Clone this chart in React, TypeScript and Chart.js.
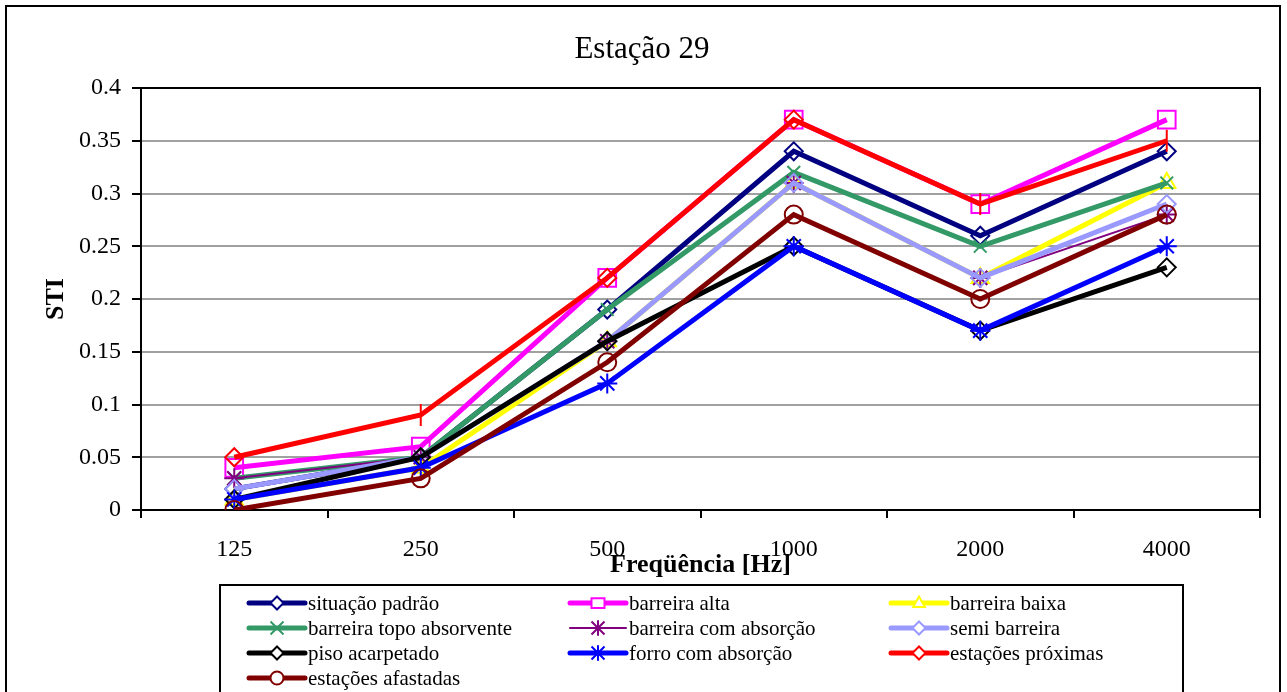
import React, { useEffect, useRef } from 'react';
import { Chart, registerables } from 'chart.js';

Chart.register(...registerables);

const categories = ['125', '250', '500', '1000', '2000', '4000'];
const yTicks = [0, 0.05, 0.1, 0.15, 0.2, 0.25, 0.3, 0.35, 0.4];

const situacaoPadrao = [0.02, 0.05, 0.19, 0.34, 0.26, 0.34];
const barreiraAlta = [0.04, 0.06, 0.22, 0.37, 0.29, 0.37];
const barreiraBaixa = [0.01, 0.04, 0.16, 0.31, 0.22, 0.31];
const barreiraTopoAbsorvente = [0.03, 0.05, 0.19, 0.32, 0.25, 0.31];
const barreiraComAbsorcao = [0.03, 0.05, 0.16, 0.31, 0.22, 0.28];
const semiBarreira = [0.02, 0.05, 0.16, 0.31, 0.22, 0.29];
const pisoAcarpetado = [0.01, 0.05, 0.16, 0.25, 0.17, 0.23];
const forroComAbsorcao = [0.01, 0.04, 0.12, 0.25, 0.17, 0.25];
const estacoesProximas = [0.05, 0.09, 0.22, 0.37, 0.29, 0.35];
const estacoesAfastadas = [0.0, 0.03, 0.14, 0.28, 0.2, 0.28];

const seriesLabels = [
  'situação padrão',
  'barreira alta',
  'barreira baixa',
  'barreira topo absorvente',
  'barreira com absorção',
  'semi barreira',
  'piso acarpetado',
  'forro com absorção',
  'estações próximas',
  'estações afastadas',
];
const seriesValues = [
  situacaoPadrao,
  barreiraAlta,
  barreiraBaixa,
  barreiraTopoAbsorvente,
  barreiraComAbsorcao,
  semiBarreira,
  pisoAcarpetado,
  forroComAbsorcao,
  estacoesProximas,
  estacoesAfastadas,
];

// styles (kept apart from the data)
const seriesColors = ['#000080', '#FF00FF', '#FFFF00', '#339966', '#800080', '#9999FF', '#000000', '#0000FF', '#FF0000', '#800000'];
const seriesWidths = [5, 5, 5, 5, 2, 5, 5, 5, 5, 5];
const seriesMarkers = ['rectRot', 'rect', 'triangle', 'crossRot', 'star', 'rectRot', 'rectRot', 'star', 'rectRot', 'circle'];
const seriesRadii = [9, 12.5, 10, 9, 10, 9, 9, 10, 9, 9];

const SERIF = "'Liberation Serif', 'Times New Roman', serif";

function drawLegendMarker(ctx: CanvasRenderingContext2D, style: string, x: number, y: number, r: number) {
  ctx.beginPath();
  switch (style) {
    case 'rectRot':
      ctx.moveTo(x, y - r);
      ctx.lineTo(x + r, y);
      ctx.lineTo(x, y + r);
      ctx.lineTo(x - r, y);
      ctx.closePath();
      ctx.fill();
      break;
    case 'rect':
      ctx.rect(x - r, y - r * 0.75, 2 * r, 1.5 * r);
      ctx.fill();
      break;
    case 'triangle':
      ctx.moveTo(x, y - r);
      ctx.lineTo(x + r * 0.9, y + r * 0.6);
      ctx.lineTo(x - r * 0.9, y + r * 0.6);
      ctx.closePath();
      ctx.fill();
      break;
    case 'crossRot':
      ctx.moveTo(x - r, y - r);
      ctx.lineTo(x + r, y + r);
      ctx.moveTo(x + r, y - r);
      ctx.lineTo(x - r, y + r);
      break;
    case 'star':
      ctx.moveTo(x - r, y - r);
      ctx.lineTo(x + r, y + r);
      ctx.moveTo(x + r, y - r);
      ctx.lineTo(x - r, y + r);
      ctx.moveTo(x, y - r * 1.2);
      ctx.lineTo(x, y + r * 1.2);
      break;
    case 'circle':
      ctx.arc(x, y, r, 0, Math.PI * 2);
      ctx.fill();
      break;
  }
  ctx.stroke();
}

const decorPlugin = {
  id: 'decor',
  beforeDraw(chart: any) {
    const { ctx, width, height } = chart;
    ctx.save();
    ctx.fillStyle = '#ffffff';
    ctx.fillRect(0, 0, width, height);
    ctx.restore();
  },
  beforeDatasetsDraw(chart: any) {
    const { ctx, chartArea } = chart;
    ctx.save();
    ctx.strokeStyle = '#000';
    ctx.lineWidth = 2;
    ctx.strokeRect(chartArea.left, chartArea.top, chartArea.right - chartArea.left, chartArea.bottom - chartArea.top);
    ctx.restore();
  },
  afterDraw(chart: any) {
    const { ctx, chartArea } = chart;
    ctx.save();
    // outer frame
    ctx.strokeStyle = '#000';
    ctx.lineWidth = 2;
    ctx.strokeRect(6, 6, 1274, 720);

    // title
    ctx.fillStyle = '#000';
    ctx.textAlign = 'center';
    ctx.textBaseline = 'middle';
    ctx.font = `31px ${SERIF}`;
    ctx.fillText('Estação 29', 642, 50);

    // x axis title
    const cx = (chartArea.left + chartArea.right) / 2;
    ctx.font = `bold 26px ${SERIF}`;
    ctx.fillText('Freqüência [Hz]', cx, 565);

    // y axis title
    ctx.save();
    ctx.translate(56, (chartArea.top + chartArea.bottom) / 2);
    ctx.rotate(-Math.PI / 2);
    ctx.fillText('STI', 0, 0);
    ctx.restore();

    // legend box
    ctx.lineWidth = 2;
    ctx.strokeStyle = '#000';
    ctx.strokeRect(220, 585, 963, 200);

    const colX = [249, 570, 891];
    const rowY = [603, 628, 653, 678];
    ctx.font = `21px ${SERIF}`;
    ctx.textAlign = 'left';
    for (let i = 0; i < seriesLabels.length; i++) {
      const col = i % 3;
      const row = Math.floor(i / 3);
      const x0 = colX[col];
      const y = rowY[row];
      ctx.strokeStyle = seriesColors[i];
      ctx.lineWidth = seriesWidths[i];
      ctx.lineCap = 'round';
      ctx.beginPath();
      ctx.moveTo(x0, y);
      ctx.lineTo(x0 + 56, y);
      ctx.stroke();
      ctx.lineCap = 'butt';
      ctx.lineWidth = 2;
      ctx.fillStyle = '#ffffff';
      drawLegendMarker(ctx, seriesMarkers[i], x0 + 28, y, 6.5);
      ctx.fillStyle = '#000';
      ctx.fillText(seriesLabels[i], x0 + 59, y + 1);
    }
    ctx.restore();
  },
};

export default function App() {
  const canvasRef = useRef<HTMLCanvasElement | null>(null);

  useEffect(() => {
    const canvas = canvasRef.current;
    if (!canvas) return;

    const datasets = seriesValues.map((values, i) => {
      const isRed = i === 8;
      return {
        label: seriesLabels[i],
        data: values,
        borderColor: seriesColors[i],
        backgroundColor: seriesColors[i],
        borderWidth: seriesWidths[i],
        pointStyle: isRed ? ['rectRot', 'line', 'rectRot', 'rectRot', 'line', 'line'] : seriesMarkers[i],
        rotation: isRed ? [0, 90, 0, 0, 90, 90] : 0,
        pointRadius: isRed ? [9, 11, 9, 9, 11, 11] : seriesRadii[i],
        pointBorderColor: seriesColors[i],
        pointBackgroundColor: 'rgba(0,0,0,0)',
        pointBorderWidth: 2,
        tension: 0,
        fill: false,
        order: 20 - i,
      };
    });

    const chart = new Chart(canvas, {
      type: 'line',
      data: { labels: categories, datasets },
      plugins: [decorPlugin],
      options: {
        responsive: false,
        animation: false,
        devicePixelRatio: 1,
        layout: { padding: { top: 88, right: 27, left: 0, bottom: 0 } },
        plugins: {
          legend: { display: false },
          title: { display: false },
          tooltip: { enabled: false },
        },
        scales: {
          x: {
            type: 'category',
            offset: true,
            afterFit: (scale: any) => {
              scale.height = 182;
            },
            grid: {
              offset: true,
              drawOnChartArea: false,
              drawTicks: true,
              tickLength: 8,
              color: '#000',
              tickColor: '#000',
              lineWidth: 2,
            },
            border: { color: '#000', width: 2 },
            ticks: {
              color: '#000',
              font: { family: SERIF, size: 24 },
              padding: 17,
              maxRotation: 0,
              autoSkip: false,
            },
          },
          y: {
            min: 0,
            max: 0.4,
            afterFit: (scale: any) => {
              scale.width = 141;
            },
            afterBuildTicks: (scale: any) => {
              scale.ticks = yTicks.map((v) => ({ value: v }));
            },
            grid: {
              color: '#a0a0a0',
              tickColor: '#000',
              lineWidth: 2,
              tickLength: 9,
            },
            border: { color: '#000', width: 2 },
            ticks: {
              color: '#000',
              font: { family: SERIF, size: 24 },
              padding: 11,
              callback: (v: any) => String(Math.round(Number(v) * 100) / 100),
            },
          },
        },
      },
    });

    return () => {
      chart.destroy();
    };
  }, []);

  return (
    <div style={{ position: 'absolute', left: 0, top: 0, width: 1287, height: 692, background: '#fff' }}>
      <canvas ref={canvasRef} width={1287} height={692} style={{ display: 'block' }} />
    </div>
  );
}
